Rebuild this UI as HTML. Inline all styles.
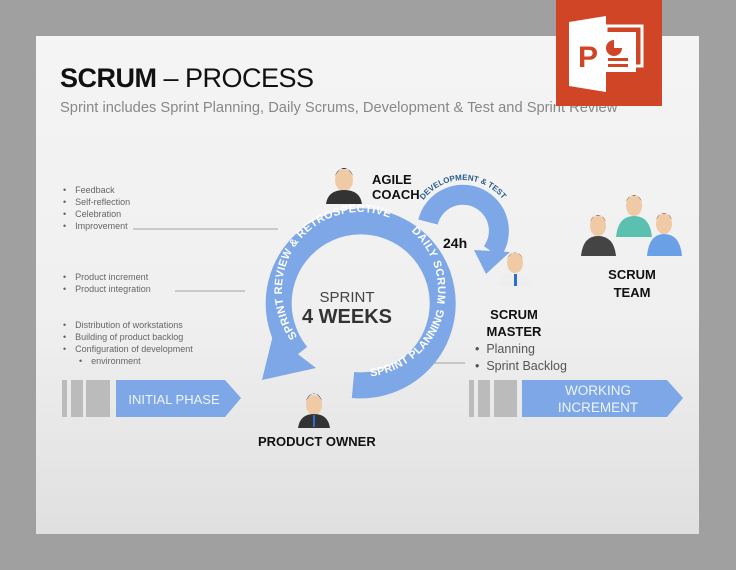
<!DOCTYPE html>
<html><head><style>
html,body{margin:0;padding:0;}
body{width:736px;height:570px;background:#a0a0a0;position:relative;overflow:hidden;font-family:"Liberation Sans",sans-serif;}
.slide{position:absolute;left:36px;top:36px;width:663px;height:498px;background:linear-gradient(#f4f4f4,#f0f0f0 55%,#e0e0e0);}
.t{position:absolute;white-space:nowrap;}
ul{margin:0;padding:0;list-style:none;}
.sm{font-size:9px;color:#666;line-height:12px;}
.sm li:before{content:"•";margin-right:9px;margin-left:3px;}
</style></head><body>
<div class="slide"></div>
<div class="t" style="left:60px;top:63px;font-size:27px;color:#111;letter-spacing:-0.5px;"><b>SCRUM</b> – PROCESS</div>
<div class="t" style="left:60px;top:100px;font-size:14.7px;color:#888;">Sprint includes Sprint Planning, Daily Scrums, Development &amp; Test and Sprint Review</div>
<div style="position:absolute;left:556px;top:0;width:106px;height:106px;background:#d04525;"></div>
<svg style="position:absolute;left:556px;top:0" width="106" height="106">
<rect x="50" y="26" width="36" height="40" fill="none" stroke="#fff" stroke-width="3"/>
<rect x="44" y="32" width="36" height="40" fill="#fff"/>
<path d="M13 22 L50 16 L50 92 L13 86Z" fill="#fff"/>
<text x="22" y="67" font-size="30" font-weight="bold" fill="#d04525" font-family="Liberation Sans">P</text>
<path d="M58 40 A8 8 0 1 0 66 48 L58 48Z" fill="#d04525"/><rect x="52" y="58" width="20" height="3" fill="#d04525"/><rect x="52" y="64" width="20" height="3" fill="#d04525"/>
</svg>
<ul class="sm t" style="left:60px;top:184px;"><li>Feedback</li><li>Self-reflection</li><li>Celebration</li><li>Improvement</li></ul>
<ul class="sm t" style="left:60px;top:271px;"><li>Product increment</li><li>Product integration</li></ul>
<ul class="sm t" style="left:60px;top:319px;"><li>Distribution of workstations</li><li>Building of product backlog</li><li>Configuration of development</li><li style="padding-left:16px">environment</li></ul>
<svg style="position:absolute;left:0;top:0" width="736" height="570">
<line x1="133" y1="229" x2="278" y2="229" stroke="#888" stroke-width="0.8"/>
<line x1="175" y1="291" x2="245" y2="291" stroke="#888" stroke-width="0.8"/>
<line x1="432" y1="363" x2="465" y2="363" stroke="#888" stroke-width="0.8"/>
<defs>
<path id="rev" d="M 300.2 340.1 A 78 78 0 0 1 404.7 226.1"/>
<path id="daily" d="M 404.7 226.1 A 78 78 0 0 1 433.3 316.7"/>
<path id="plan" d="M 352.4 376.7 A 87 87 0 0 0 438.8 253.2"/>
<path id="lit" d="M 414 222 A 50 50 0 1 1 501 263"/>
</defs>
<path d="M 353 385 A 82 82 0 1 0 297 355" fill="none" stroke="#7da7e6" stroke-width="26"/>
<polygon points="273,335 316,368 262,380" fill="#7da7e6"/>
<path d="M 428 222 A 36 36 0 1 1 492 252" fill="none" stroke="#7da7e6" stroke-width="20"/>
<polygon points="474,250 510,252 486,274" fill="#7da7e6"/>
<text font-size="11" font-weight="bold" fill="#fff" letter-spacing="0.3" font-family="Liberation Sans"><textPath href="#rev" startOffset="2%">SPRINT REVIEW &amp; RETROSPECTIVE</textPath></text>
<text font-size="11" font-weight="bold" fill="#fff" letter-spacing="0.5" font-family="Liberation Sans"><textPath href="#daily" startOffset="8%">DAILY SCRUM</textPath></text>
<text font-size="11" font-weight="bold" fill="#fff" letter-spacing="0.3" font-family="Liberation Sans"><textPath href="#plan" startOffset="10%">SPRINT PLANNING</textPath></text>
<text font-size="8" font-weight="bold" fill="#2a5d8a" font-family="Liberation Sans"><textPath href="#lit" startOffset="13%">DEVELOPMENT &amp; TEST</textPath></text>
<rect x="62" y="380" width="5" height="37" fill="#bbb"/><rect x="71" y="380" width="12" height="37" fill="#bbb"/><rect x="86" y="380" width="24" height="37" fill="#bbb"/>
<polygon points="116,380 225,380 241,398 225,417 116,417" fill="#7da7e6"/>
<rect x="469" y="380" width="5" height="37" fill="#bbb"/><rect x="478" y="380" width="12" height="37" fill="#bbb"/><rect x="494" y="380" width="23" height="37" fill="#bbb"/>
<polygon points="522,380 667,380 683,398 667,417 522,417" fill="#7da7e6"/>
<ellipse cx="344" cy="180" rx="9" ry="11" fill="#f0c9a5"/><path d="M335 176 Q344 160 353 176 Q350 168 344 169 Q338 168 335 176Z" fill="#222"/><path d="M326 204 Q328 190 344 190 Q360 190 362 204Z" fill="#333"/>
<ellipse cx="314" cy="405" rx="8" ry="10" fill="#f0c9a5"/><path d="M306 401 Q314 386 322 401 Q319 393 314 394 Q309 393 306 401Z" fill="#222"/><path d="M298 428 Q300 414 314 414 Q328 414 330 428Z" fill="#333"/><rect x="313" y="415" width="2" height="12" fill="#2a6fd0"/>
<ellipse cx="515" cy="263" rx="8" ry="10" fill="#f0c9a5"/><path d="M507 259 Q515 246 523 259 Q520 252 515 253 Q510 252 507 259Z" fill="#9a6a3a"/><path d="M498 286 Q500 273 515 273 Q530 273 532 286Z" fill="#eee"/><rect x="514" y="274" width="3" height="12" fill="#2a6fd0"/>
<ellipse cx="634" cy="206" rx="8" ry="10" fill="#f0c9a5"/><path d="M626 202 Q634 188 642 202 Q640 195 634 196 Q628 195 626 202Z" fill="#9a6a3a"/><path d="M616 237 Q618 216 634 216 Q650 216 652 237Z" fill="#5cc0b0"/>
<ellipse cx="598" cy="226" rx="8" ry="10" fill="#f0c9a5"/><path d="M590 222 Q598 208 606 222 Q604 215 598 216 Q592 215 590 222Z" fill="#9a6a3a"/><path d="M581 256 Q583 236 598 236 Q614 236 616 256Z" fill="#444"/>
<ellipse cx="664" cy="224" rx="8" ry="10" fill="#f0c9a5"/><path d="M656 220 Q664 206 672 220 Q670 213 664 214 Q658 213 656 220Z" fill="#9a6a3a"/><path d="M647 256 Q649 234 664 234 Q680 234 682 256Z" fill="#6aa0e6"/>
</svg>
<div class="t" style="left:372px;top:172px;font-size:13px;font-weight:bold;line-height:15px;color:#111;">AGILE<br>COACH</div>
<div class="t" style="left:443px;top:235px;font-size:14px;font-weight:bold;color:#111;">24h</div>
<div class="t" style="left:300px;top:290px;width:94px;text-align:center;font-size:15px;color:#444;line-height:16px;">SPRINT<br><b style="font-size:20px;color:#333;line-height:22px">4 WEEKS</b></div>
<div class="t" style="left:481px;top:306px;width:66px;text-align:center;font-size:13px;font-weight:bold;line-height:17px;color:#111;">SCRUM<br>MASTER</div>
<ul class="t" style="left:475px;top:341px;font-size:12.5px;color:#555;line-height:17px;"><li>•&nbsp; Planning</li><li>•&nbsp; Sprint Backlog</li></ul>
<div class="t" style="left:600px;top:266px;width:64px;text-align:center;font-size:13px;font-weight:bold;line-height:18px;color:#111;">SCRUM<br>TEAM</div>
<div class="t" style="left:116px;top:392px;width:116px;text-align:center;font-size:13px;color:#eef4ff;">INITIAL PHASE</div>
<div class="t" style="left:522px;top:382px;width:152px;text-align:center;font-size:13.5px;color:#eef4ff;line-height:17px;">WORKING<br>INCREMENT</div>
<div class="t" style="left:258px;top:434px;font-size:13px;font-weight:bold;color:#111;">PRODUCT OWNER</div>
</body></html>
